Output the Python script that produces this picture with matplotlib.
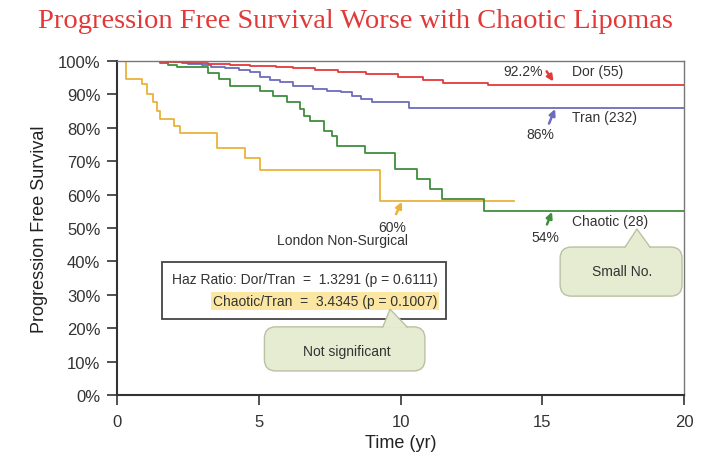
import numpy as np
import matplotlib
matplotlib.use('Agg')
import matplotlib.pyplot as plt
from matplotlib.patches import FancyBboxPatch, Polygon, Rectangle

plt.rcParams['font.family'] = ['Liberation Sans', 'DejaVu Sans']

# Kaplan-Meier style step data (years, % free)
dor_t = [0, 1.5, 2.3, 3.2, 4.0, 4.7, 5.6, 6.2, 7.0, 7.8, 8.8, 9.9, 10.8, 11.5, 13.1, 20]
dor_s = [100, 99.7, 99.4, 99.1, 98.8, 98.5, 98.2, 97.8, 97.2, 96.6, 96.0, 95.1, 94.2, 93.3, 92.9, 92.9]

tran_t = [0, 2.0, 2.5, 3.0, 3.3, 3.8, 4.3, 4.7, 5.05, 5.4, 5.75, 6.2, 6.9, 7.4, 7.9, 8.3, 8.6, 9.0, 10.3, 20]
tran_s = [100, 99.6, 99.2, 98.8, 98.2, 97.8, 97.2, 96.6, 95.1, 94.4, 93.6, 92.6, 91.6, 91.0, 90.6, 89.6, 88.6, 87.6, 86.0, 86.0]

chaotic_t = [0, 1.5, 1.8, 2.1, 3.2, 3.6, 4.0, 5.05, 5.5, 6.0, 6.45, 6.6, 6.8, 7.3, 7.6, 7.75,
             8.75, 9.8, 10.57, 11.04, 11.45, 12.95, 20]
chaotic_s = [100, 99.4, 98.8, 98.1, 96.5, 94.5, 92.6, 91.1, 89.6, 87.7, 85.6, 83.6, 82.1, 79.1, 77.6, 74.6,
             72.6, 67.6, 64.7, 61.7, 58.7, 55.2, 55.2]

london_t = [0, 0.31, 0.87, 1.05, 1.28, 1.4, 1.52, 2.0, 2.22, 3.52, 4.52, 5.05, 9.28, 14.0]
london_s = [100, 94.6, 93.1, 90.1, 87.6, 85.1, 82.6, 80.6, 78.3, 74.1, 71.1, 67.5, 58.2, 58.2]

x_ticks = [0, 5, 10, 15, 20]
y_ticks = list(range(0, 101, 10))

RED = '#e23a3a'
BLUE = '#6c6cbc'
GREEN = '#3f8f3f'
GOLD = '#e9b23a'
BUBBLE = '#e6ecd2'
BUBBLE_EDGE = '#b9c1a3'

fig = plt.figure(figsize=(7.1, 4.56), dpi=100)
ax = fig.add_axes([0.1648, 0.1316, 0.7986, 0.7324])

ax.step(london_t, london_s, where='post', color=GOLD, lw=1.3)
ax.step(chaotic_t, chaotic_s, where='post', color=GREEN, lw=1.3)
ax.step(tran_t, tran_s, where='post', color=BLUE, lw=1.3)
ax.step(dor_t, dor_s, where='post', color=RED, lw=1.3)

ax.set_xlim(0, 20)
ax.set_ylim(0, 100)
ax.set_xticks(x_ticks)
ax.set_yticks(y_ticks)
ax.set_yticklabels(['%d%%' % v for v in y_ticks])
ax.tick_params(direction='out', length=7, width=1.2, colors='#333333', labelsize=12, pad=5)
ax.tick_params(axis='x', pad=7)
for side in ['left', 'bottom']:
    ax.spines[side].set_color('#333333')
    ax.spines[side].set_linewidth(1.5)
for side in ['top', 'right']:
    ax.spines[side].set_color('#777777')
    ax.spines[side].set_linewidth(1.0)

ax.set_xlabel('Time (yr)', fontsize=13, color='#222222', labelpad=3)
ax.set_ylabel('Progression Free Survival', fontsize=13, color='#222222', labelpad=7)

fig.text(0.5, 0.952, 'Progression Free Survival Worse with Chaotic Lipomas',
         family='Liberation Serif', fontsize=20.5, color='#e23838', ha='center', va='center')

# labels and small arrows at the curve ends
tk = dict(fontsize=10, color='#333333', va='center')
ax.text(16.05, 97.0, 'Dor (55)', ha='left', **tk)
ax.text(16.05, 83.2, 'Tran (232)', ha='left', **tk)
ax.text(16.05, 52.1, 'Chaotic (28)', ha='left', **tk)
ax.text(15.03, 97.0, '92.2%', ha='right', **tk)
ax.text(14.92, 78.1, '86%', ha='center', **tk)
ax.text(15.1, 47.3, '54%', ha='center', **tk)
ax.text(9.7, 50.3, '60%', ha='center', **tk)
ax.text(7.97, 46.4, 'London Non-Surgical', ha='center', **tk)

arrows = [((15.1, 97.6), (15.45, 93.2), RED),
          ((15.2, 80.5), (15.49, 86.4), BLUE),
          ((15.13, 50.3), (15.38, 55.6), GREEN),
          ((9.8, 53.4), (10.09, 58.6), GOLD)]
for tail, head, c in arrows:
    ax.annotate('', xy=head, xytext=tail,
                arrowprops=dict(arrowstyle='-|>', color=c, lw=1.8, mutation_scale=9))

# hazard ratio box
ax.add_patch(Rectangle((1.59, 22.8), 10.01, 17.0, facecolor='white',
                       edgecolor='#444444', lw=1.3, zorder=3))
ax.text(1.94, 34.7, 'Haz Ratio: Dor/Tran  =  1.3291 (p = 0.6111)', ha='left',
        fontsize=10, color='#333333', va='center', zorder=4)
ax.text(11.29, 28.1, 'Chaotic/Tran  =  3.4345 (p = 0.1007)', ha='right',
        fontsize=10, color='#333333', va='center', zorder=4,
        bbox=dict(boxstyle='square,pad=0.15', facecolor='#fbe7a2', edgecolor='none'))

aspect = 28.35 / 3.34


def bubble(x0, x1, y0, y1, tip, base, label, tx, ty):
    box = FancyBboxPatch((x0, y0), x1 - x0, y1 - y0,
                         boxstyle='round,pad=0,rounding_size=0.4',
                         mutation_aspect=aspect, facecolor=BUBBLE,
                         edgecolor=BUBBLE_EDGE, lw=1.0, zorder=5)
    ax.add_patch(box)
    tri = Polygon([(base[0], y1 - 0.3), tip, (base[1], y1 - 0.3)], closed=True,
                  facecolor=BUBBLE, edgecolor='none', zorder=6)
    ax.add_patch(tri)
    ax.plot([base[0], tip[0], base[1]], [y1, tip[1], y1], color=BUBBLE_EDGE,
            lw=1.0, zorder=7)
    ax.text(tx, ty, label, ha='center', va='center', fontsize=10,
            color='#333333', zorder=8)


bubble(5.2, 10.86, 7.2, 20.4, (9.63, 25.7), (9.38, 10.23), 'Not significant', 8.1, 13.2)
bubble(15.63, 19.93, 29.6, 44.3, (18.34, 49.7), (17.92, 18.8), 'Small No.', 17.81, 37.1)

fig.savefig('out.png', dpi=100)
